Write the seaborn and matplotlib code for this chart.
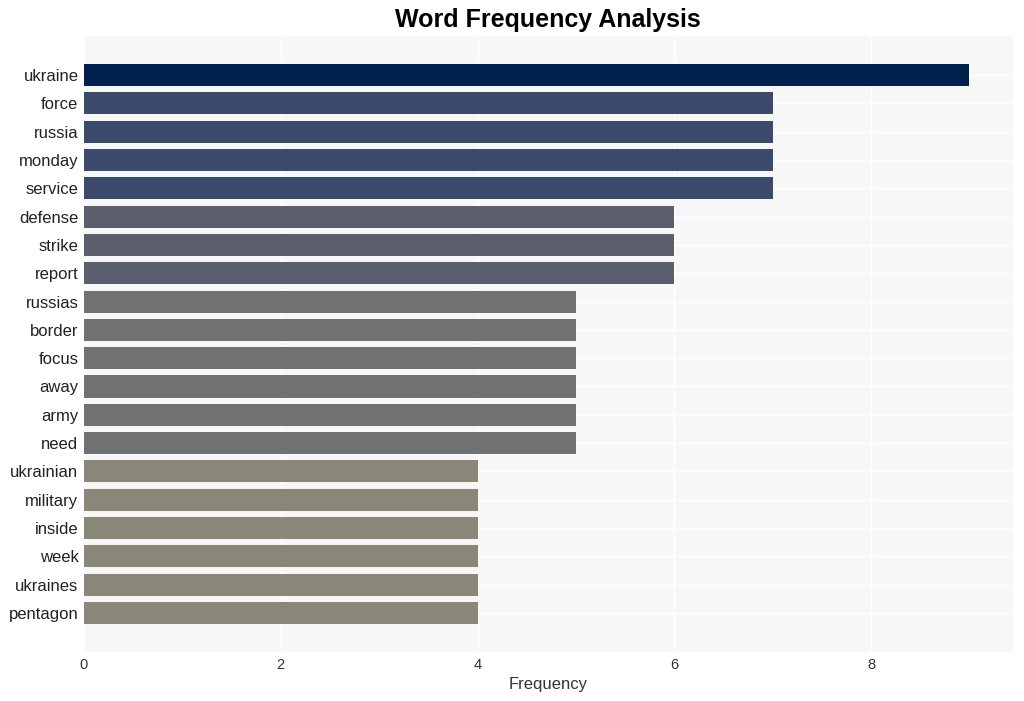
import matplotlib
matplotlib.use("Agg")
import matplotlib.pyplot as plt
import seaborn as sns
import pandas as pd

words = ["ukraine", "force", "russia", "monday", "service", "defense", "strike",
         "report", "russias", "border", "focus", "away", "army", "need",
         "ukrainian", "military", "inside", "week", "ukraines", "pentagon"]
counts = [9, 7, 7, 7, 7, 6, 6, 6, 5, 5, 5, 5, 5, 5, 4, 4, 4, 4, 4, 4]
value_colors = {9: "#00204D", 7: "#3C4A6B", 6: "#5A5E6D", 5: "#707173", 4: "#8A8779"}

df = pd.DataFrame({"word": words, "count": counts})

sns.set_style("whitegrid")
plt.rcParams["font.family"] = ["Liberation Sans", "DejaVu Sans"]

fig = plt.figure(figsize=(10.24, 7.01), dpi=100)
ax = fig.add_axes([0.082, 0.0699, 0.907, 0.8787])
ax.set_facecolor("#F7F7F7")

palette = [value_colors[c] for c in counts]
sns.barplot(data=df, x="count", y="word", hue="word", palette=palette,
            legend=False, width=0.78, ax=ax, saturation=1, linewidth=0)

ax.set_xlim(0, 9.44)
ax.set_ylim(len(words) - 1 + 1.38, -1.38)
ax.set_xticks([0, 2, 4, 6, 8])
ax.grid(True, color="white", linewidth=1)
ax.set_axisbelow(True)
for s in ax.spines.values():
    s.set_visible(False)
ax.tick_params(axis="y", labelsize=12, length=0, pad=4, labelcolor="#222222")
ax.tick_params(axis="x", labelsize=10.5, length=0, pad=4, labelcolor="#333333")
ax.set_ylabel("")
ax.set_xlabel("Frequency", fontsize=12, color="#333333", labelpad=4)
fig.suptitle("Word Frequency Analysis", fontsize=18, fontweight="bold", color="black",
             x=0.535, y=0.988)

fig.savefig("out.png", dpi=100, facecolor="white")
